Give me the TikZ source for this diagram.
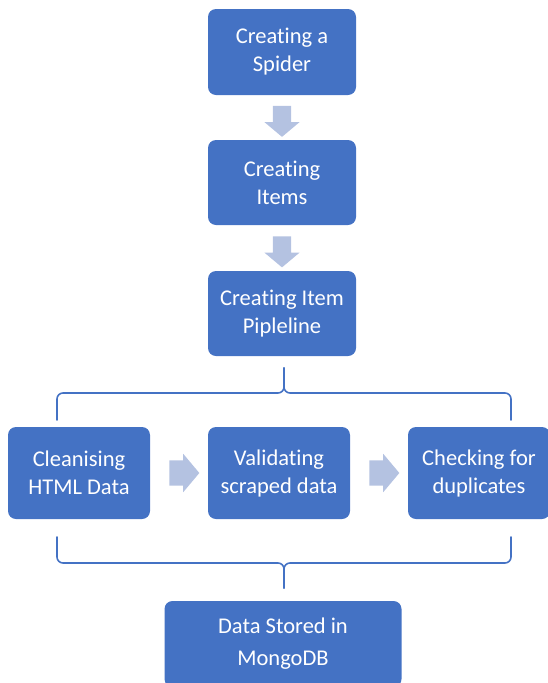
\documentclass[tikz,border=0pt]{standalone}
\usepackage{fontspec}
\setmainfont{Carlito}[Ligatures=NoCommon]
\usetikzlibrary{shapes.arrows,calc}
\definecolor{boxblue}{RGB}{68,114,196}
\definecolor{arrowblue}{RGB}{180,194,225}
\begin{document}
\begin{tikzpicture}[x=1pt, y=-1pt, font=\fontsize{22.5}{28}\selectfont, line join=round, line cap=round,
	stepbox/.style={rectangle, rounded corners=8pt, fill=boxblue, text=white, align=center, inner sep=0pt},
	blockarrow/.style={single arrow, fill=arrowblue, draw=none, inner xsep=0pt, single arrow tip angle=100},
	downarrow/.style={blockarrow, rotate=-90, minimum height=31pt, inner ysep=9pt, single arrow head extend=8.5pt},
	rightarrow/.style={blockarrow, minimum height=30pt, inner ysep=12.5pt, single arrow head extend=6.5pt},
	brace/.style={draw=boxblue, line width=1.6pt, rounded corners=6pt}]
	\useasboundingbox (0,0) rectangle (547,683);
	% main column
	\node[stepbox, minimum width=148pt, minimum height=86pt] (spider) at (282,52) {Creating a\\Spider};
	\node[stepbox, minimum width=148pt, minimum height=85pt] (items) at (282,182.5) {Creating\\Items};
	\node[stepbox, minimum width=148pt, minimum height=85pt] (pipeline) at (282,313.5) {Creating Item\\Pipleline};
	\node[downarrow] (a1) at ($(spider.south)!0.5!(items.north)$) {};
	\node[downarrow] (a2) at ($(items.south)!0.5!(pipeline.north)$) {};
	% pipeline stages
	\node[stepbox, minimum width=142pt, minimum height=92pt] (clean) at (79,473) {Cleanising\\HTML Data};
	\node[stepbox, minimum width=142pt, minimum height=92pt] (validate) at (279,473) {Validating\\scraped data};
	\node[stepbox, minimum width=142pt, minimum height=92pt] (dupes) at (479,473) {Checking for\\duplicates};
	\node[rightarrow] (a3) at ($(clean.east)!0.5!(validate.west)$) {};
	\node[rightarrow] (a4) at ($(validate.east)!0.5!(dupes.west)$) {};
	\node[stepbox, minimum width=237pt, minimum height=86pt] (stored) at (283,644) {Data Stored in\\[4pt]MongoDB};
	% braces
	\coordinate (tl) at (57,420);
	\coordinate (tr) at (511,420);
	\coordinate (tm) at (284,393);
	\coordinate (tt) at (284,368);
	\draw[brace] (tl) |- (tm) -- (tt);
	\draw[brace] (tr) |- (tm) -- (tt);
	\coordinate (bl) at (57,537);
	\coordinate (br) at (511,537);
	\coordinate (bm) at (284,563);
	\coordinate (bt) at (284,588);
	\draw[brace] (bl) |- (bm) -- (bt);
	\draw[brace] (br) |- (bm) -- (bt);
\end{tikzpicture}
\end{document}
